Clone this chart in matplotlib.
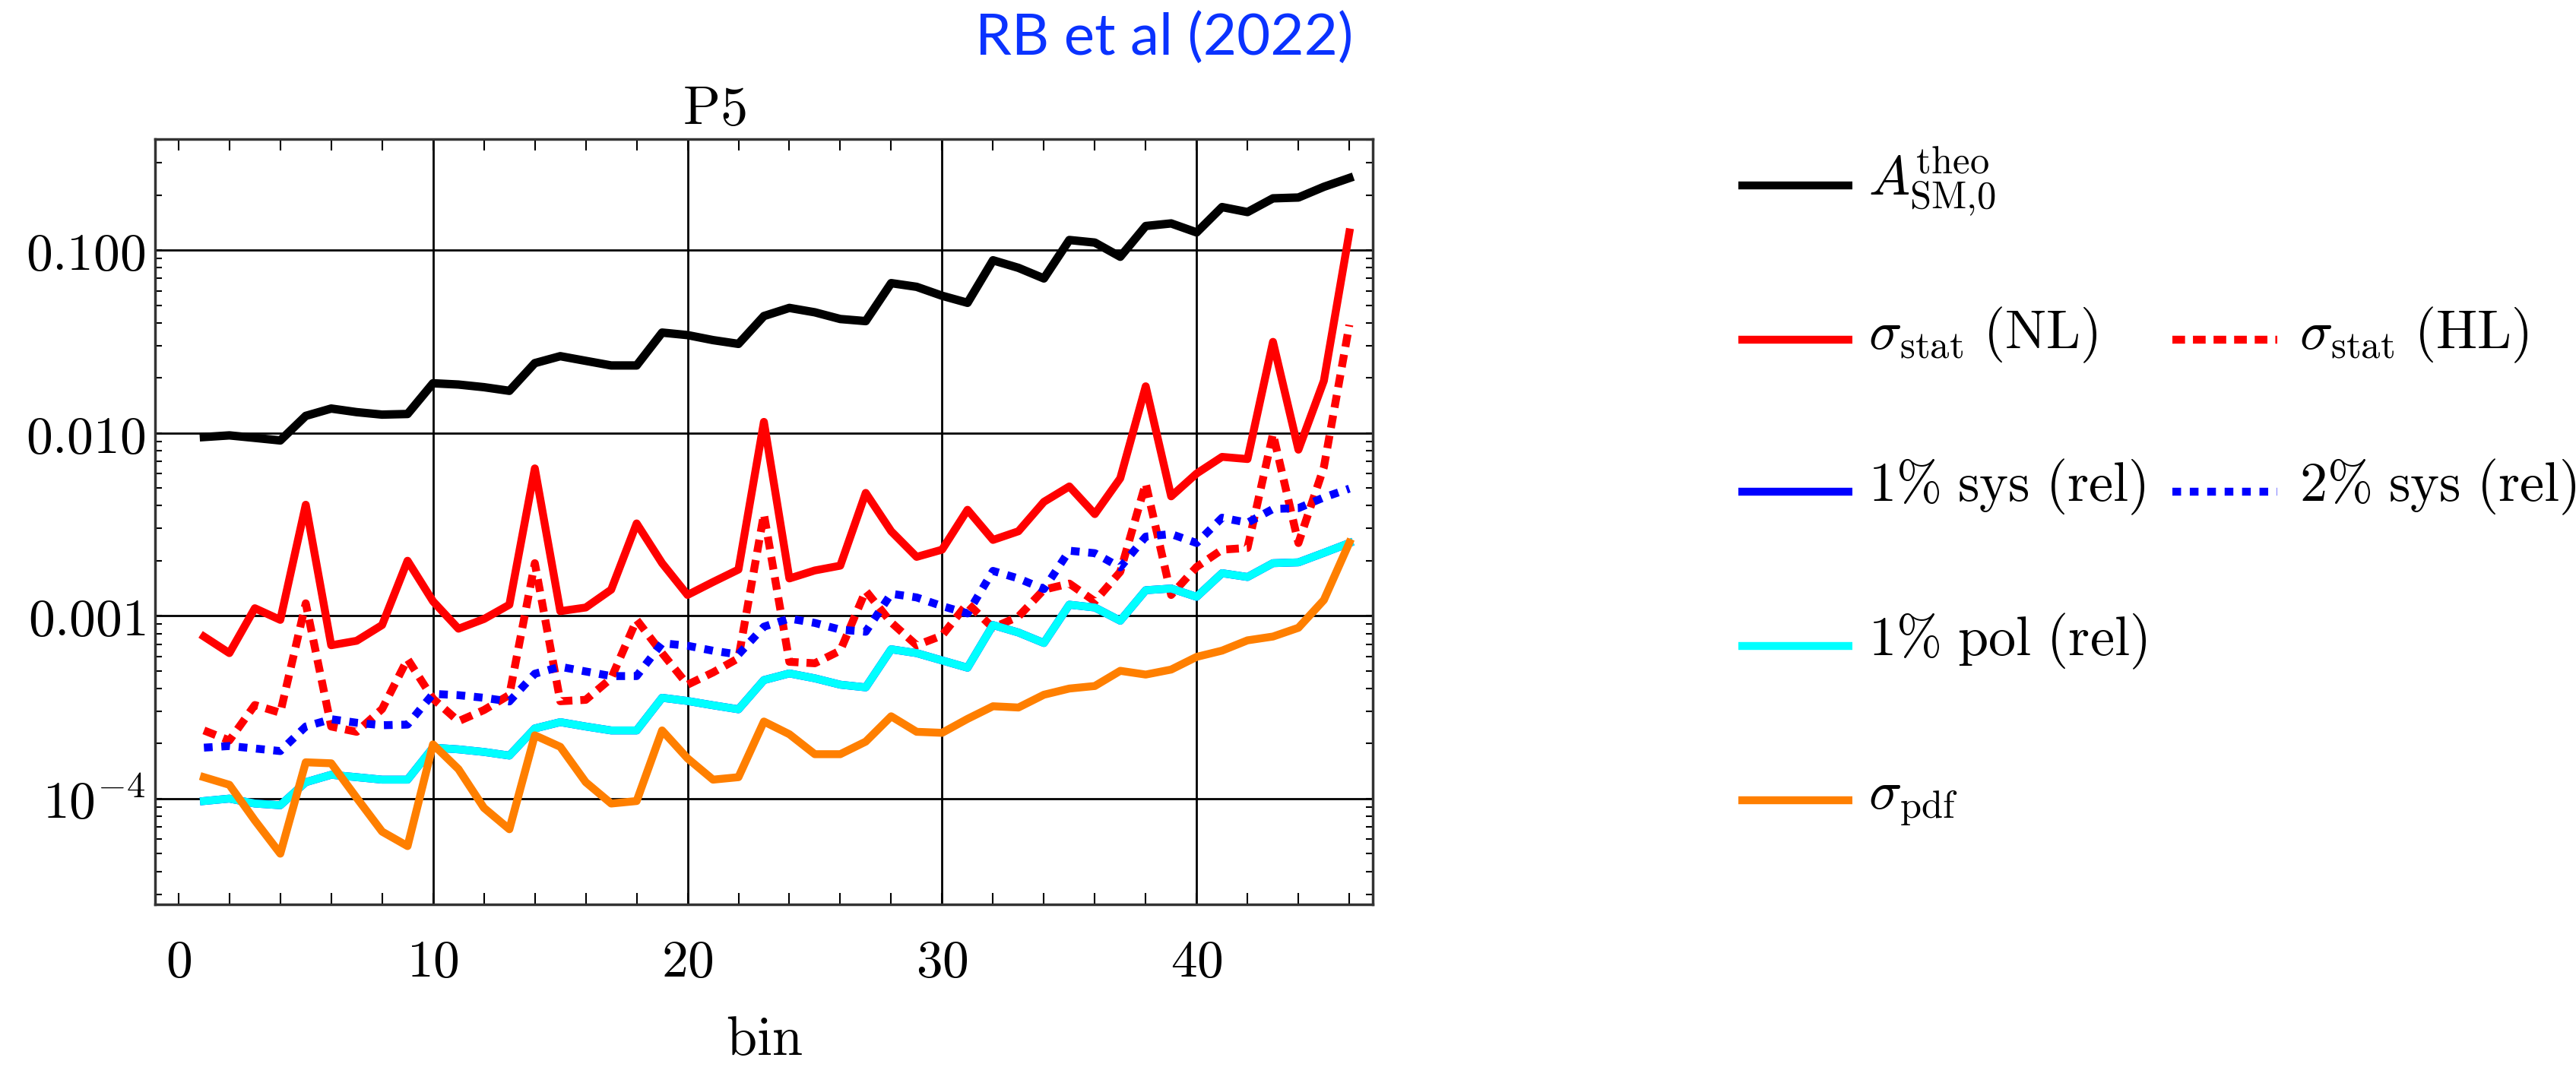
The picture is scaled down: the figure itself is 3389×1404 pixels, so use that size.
import matplotlib
matplotlib.use("Agg")
import matplotlib.pyplot as plt
from matplotlib.ticker import FixedLocator, FixedFormatter, MultipleLocator, LogLocator, NullFormatter

plt.rcParams["mathtext.fontset"] = "cm"
plt.rcParams["font.family"] = ["DejaVu Serif"]

# values, one per bin
bins = list(range(1, 47))

a_theo = [0.0095, 0.0097, 0.0094, 0.0091, 0.0124, 0.0136, 0.0130, 0.0126, 0.0127, 0.0187,
          0.0184, 0.0178, 0.0170, 0.0241, 0.0263, 0.0248, 0.0234, 0.0234, 0.0354, 0.0343,
          0.0322, 0.0307, 0.0436, 0.0483, 0.0457, 0.0420, 0.0409, 0.0660, 0.0630, 0.0563,
          0.0515, 0.0880, 0.0800, 0.0700, 0.1136, 0.1100, 0.0920, 0.1355, 0.1400, 0.1250,
          0.1720, 0.1615, 0.1920, 0.1940, 0.2220, 0.2480]

stat_nl = [7.7e-4, 6.25e-4, 1.10e-3, 9.5e-4, 4.05e-3, 6.9e-4, 7.3e-4, 8.9e-4, 2.0e-3, 1.2e-3,
           8.5e-4, 9.6e-4, 1.15e-3, 6.4e-3, 1.06e-3, 1.11e-3, 1.39e-3, 3.2e-3, 1.94e-3, 1.30e-3,
           1.53e-3, 1.79e-3, 0.0115, 1.6e-3, 1.77e-3, 1.88e-3, 4.7e-3, 2.9e-3, 2.1e-3, 2.3e-3,
           3.8e-3, 2.6e-3, 2.9e-3, 4.2e-3, 5.1e-3, 3.6e-3, 5.65e-3, 0.0180, 4.5e-3, 6.0e-3,
           7.4e-3, 7.2e-3, 0.0315, 8.1e-3, 0.0193, 0.125]

stat_hl = [2.36e-4, 2.08e-4, 3.25e-4, 2.95e-4, 1.17e-3, 2.48e-4, 2.32e-4, 3.09e-4, 5.8e-4, 3.52e-4,
           2.65e-4, 3.05e-4, 3.69e-4, 1.94e-3, 3.41e-4, 3.47e-4, 4.55e-4, 9.5e-4, 6.25e-4, 4.2e-4,
           4.9e-4, 5.86e-4, 3.6e-3, 5.6e-4, 5.5e-4, 6.45e-4, 1.37e-3, 9.2e-4, 6.9e-4, 7.8e-4,
           1.17e-3, 8.6e-4, 9.9e-4, 1.39e-3, 1.5e-3, 1.2e-3, 1.74e-3, 5.3e-3, 1.3e-3, 1.85e-3,
           2.3e-3, 2.35e-3, 9.9e-3, 2.5e-3, 6.5e-3, 0.039]

sys1 = [9.7e-5, 1.0e-4, 9.4e-5, 9.2e-5, 1.23e-4, 1.35e-4, 1.31e-4, 1.27e-4, 1.27e-4, 1.90e-4,
        1.86e-4, 1.80e-4, 1.72e-4, 2.42e-4, 2.62e-4, 2.48e-4, 2.36e-4, 2.36e-4, 3.56e-4, 3.42e-4,
        3.24e-4, 3.08e-4, 4.45e-4, 4.84e-4, 4.55e-4, 4.20e-4, 4.06e-4, 6.56e-4, 6.25e-4, 5.70e-4,
        5.20e-4, 8.9e-4, 8.1e-4, 7.1e-4, 1.15e-3, 1.11e-3, 9.4e-4, 1.38e-3, 1.41e-3, 1.27e-3,
        1.71e-3, 1.63e-3, 1.94e-3, 1.96e-3, 2.21e-3, 2.50e-3]

sys2 = [1.90e-4, 1.94e-4, 1.88e-4, 1.82e-4, 2.48e-4, 2.72e-4, 2.60e-4, 2.52e-4, 2.54e-4, 3.74e-4,
        3.68e-4, 3.56e-4, 3.40e-4, 4.82e-4, 5.26e-4, 4.96e-4, 4.68e-4, 4.68e-4, 7.08e-4, 6.86e-4,
        6.44e-4, 6.14e-4, 8.72e-4, 9.66e-4, 9.14e-4, 8.40e-4, 8.18e-4, 1.32e-3, 1.26e-3, 1.13e-3,
        1.03e-3, 1.76e-3, 1.60e-3, 1.40e-3, 2.27e-3, 2.20e-3, 1.84e-3, 2.71e-3, 2.80e-3, 2.50e-3,
        3.44e-3, 3.23e-3, 3.84e-3, 3.88e-3, 4.44e-3, 4.96e-3]

pol1 = [9.7e-5, 1.0e-4, 9.4e-5, 9.2e-5, 1.23e-4, 1.35e-4, 1.31e-4, 1.27e-4, 1.27e-4, 1.90e-4,
        1.86e-4, 1.80e-4, 1.72e-4, 2.42e-4, 2.62e-4, 2.48e-4, 2.36e-4, 2.36e-4, 3.56e-4, 3.42e-4,
        3.24e-4, 3.08e-4, 4.45e-4, 4.84e-4, 4.55e-4, 4.20e-4, 4.06e-4, 6.56e-4, 6.25e-4, 5.70e-4,
        5.20e-4, 8.9e-4, 8.1e-4, 7.1e-4, 1.15e-3, 1.11e-3, 9.4e-4, 1.38e-3, 1.41e-3, 1.27e-3,
        1.71e-3, 1.63e-3, 1.94e-3, 1.96e-3, 2.21e-3, 2.50e-3]

pdf = [1.31e-4, 1.19e-4, 7.6e-5, 5.0e-5, 1.58e-4, 1.56e-4, 1.01e-4, 6.6e-5, 5.5e-5, 1.98e-4,
       1.45e-4, 8.9e-5, 6.8e-5, 2.22e-4, 1.92e-4, 1.23e-4, 9.4e-5, 9.7e-5, 2.36e-4, 1.66e-4,
       1.27e-4, 1.31e-4, 2.64e-4, 2.25e-4, 1.75e-4, 1.75e-4, 2.05e-4, 2.82e-4, 2.32e-4, 2.29e-4,
       2.73e-4, 3.2e-4, 3.15e-4, 3.7e-4, 4.0e-4, 4.13e-4, 5.0e-4, 4.77e-4, 5.08e-4, 5.96e-4,
       6.45e-4, 7.34e-4, 7.7e-4, 8.6e-4, 1.22e-3, 2.51e-3]

x_ticks = [0, 10, 20, 30, 40]
x_labels = [r"$0$", r"$10$", r"$20$", r"$30$", r"$40$"]
y_ticks = [1e-4, 1e-3, 1e-2, 1e-1]
y_labels = [r"$10^{-4}$", r"$0.001$", r"$0.010$", r"$0.100$"]

RED = "#ff0000"
BLUE = "#0000ff"
CYAN = "#00ffff"
ORANGE = "#ff7f00"
LW = 7.5
HL_DASH = (1.6, 1.0)
DOT = (1.1, 1.1)

W, H = 3389, 1404
fig = plt.figure(figsize=(W / 100, H / 100), dpi=100)
ax = fig.add_axes([204 / W, 1 - 1190 / H, 1602 / W, 1007 / H])

# grid lines (Mathematica style, only at labelled positions except 0)
for v in y_ticks:
	ax.axhline(v, color="black", lw=2.0, zorder=1)
for v in x_ticks[1:]:
	ax.axvline(v, color="black", lw=2.0, zorder=1)

ax.plot(bins, a_theo, color="black", lw=8, zorder=3)
ax.plot(bins, stat_nl, color=RED, lw=LW, zorder=3)
ax.plot(bins, stat_hl, color=RED, lw=LW, dashes=HL_DASH, dash_capstyle="butt", zorder=3)
ax.plot(bins, sys1, color=BLUE, lw=LW, zorder=3)
ax.plot(bins, sys2, color=BLUE, lw=LW, dashes=DOT, dash_capstyle="butt", zorder=3)
ax.plot(bins, pol1, color=CYAN, lw=LW, zorder=3)
ax.plot(bins, pdf, color=ORANGE, lw=LW, zorder=3)

ax.set_yscale("log")
ax.set_xlim(-0.92, 46.92)
ax.set_ylim(2.64e-5, 0.405)

ax.xaxis.set_major_locator(FixedLocator(x_ticks))
ax.xaxis.set_major_formatter(FixedFormatter(x_labels))
ax.xaxis.set_minor_locator(MultipleLocator(2))
ax.yaxis.set_major_locator(FixedLocator(y_ticks))
ax.yaxis.set_major_formatter(FixedFormatter(y_labels))
ax.yaxis.set_minor_locator(LogLocator(base=10, subs=range(2, 10), numticks=20))
ax.yaxis.set_minor_formatter(NullFormatter())

ax.tick_params(which="both", direction="in", top=True, right=True, width=1.5, colors="black")
ax.tick_params(axis="x", which="both", length=11, pad=31, labelsize=50)
ax.tick_params(axis="y", which="both", length=6.5, pad=9, labelsize=50)
for s in ax.spines.values():
	s.set_linewidth(2.5)
	s.set_color("#333333")

ax.set_title(r"$\mathrm{P5}$", x=(940 - 204) / 1602, pad=14, fontsize=52)
fig.text(1005 / W, 1 - 1388 / H, r"$\mathrm{bin}$", ha="center", va="baseline", fontsize=52)
fig.text(1532 / W, 1 - 50 / H, "RB et al (2022)", color="#0a32ff", family="Lato",
	fontsize=55, ha="center", va="center")

# legend drawn by hand on an overlay axes in pixel units
leg = fig.add_axes([0, 0, 1, 1])
leg.set_axis_off()
leg.set_xlim(0, W)
leg.set_ylim(H, 0)

legend_rows = [
	(244, "black", r"$A^{\rm theo}_{\rm SM{,}0}$", None, None, None),
	(447, RED, r"$\sigma_{\rm stat}\ \mathrm{(NL)}$", RED, HL_DASH, r"$\sigma_{\rm stat}\ \mathrm{(HL)}$"),
	(647, BLUE, r"$\mathrm{1\%\ sys\ (rel)}$", BLUE, DOT, r"$\mathrm{2\%\ sys\ (rel)}$"),
	(850, CYAN, r"$\mathrm{1\%\ pol\ (rel)}$", None, None, None),
	(1053, ORANGE, r"$\sigma_{\rm pdf}$", None, None, None),
]
for y, c1, t1, c2, d2, t2 in legend_rows:
	leg.plot([2287, 2437], [y, y], color=c1, lw=LW, solid_capstyle="butt")
	leg.text(2458, y + 12, t1, fontsize=52, va="baseline", ha="left")
	if c2 is not None:
		leg.plot([2858, 2996], [y, y], color=c2, lw=LW, dashes=d2, dash_capstyle="butt")
		leg.text(3025, y + 12, t2, fontsize=52, va="baseline", ha="left")

fig.savefig("out.png", dpi=100)
